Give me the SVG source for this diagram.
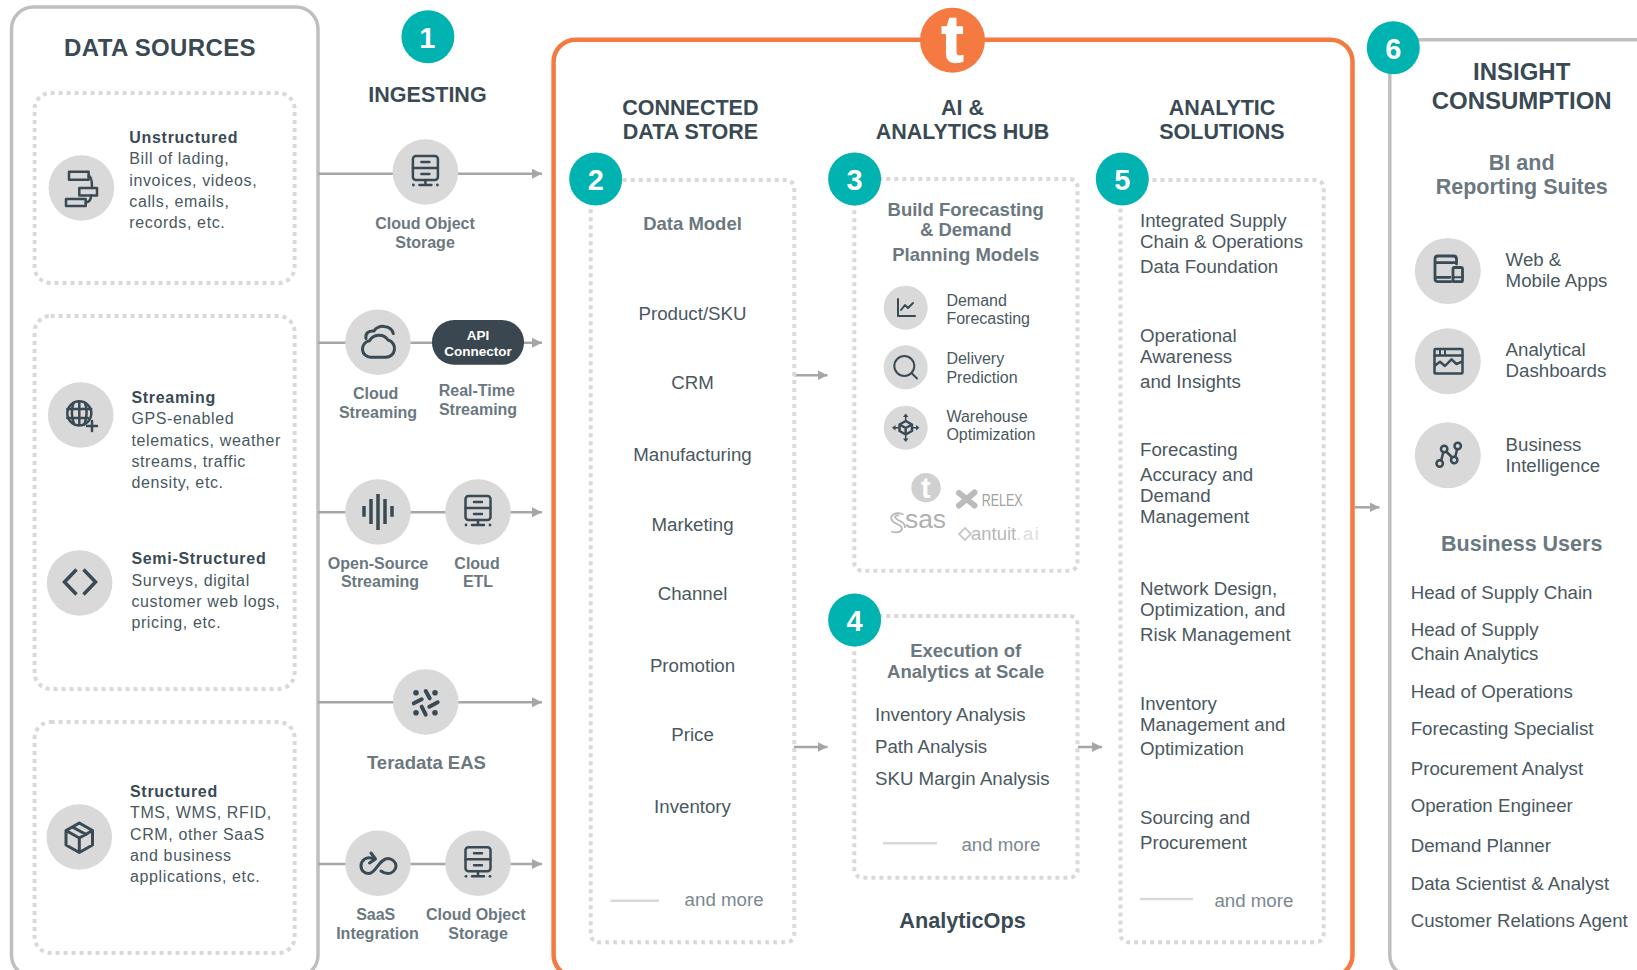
<svg xmlns="http://www.w3.org/2000/svg" xmlns:xlink="http://www.w3.org/1999/xlink" width="1637" height="970" viewBox="0 0 1637 970">
<style>
text{font-family:"Liberation Sans",Arial,sans-serif}
.panel{fill:none;stroke:#bfbfbf;stroke-width:3.5}
.orange{fill:none;stroke:#f47a42;stroke-width:4.5}
.dot{fill:none;stroke:#d9d9d9;stroke-width:4;stroke-dasharray:4 4}
.conn{stroke:#a6a6a6;stroke-width:2.5;fill:none}
.more{stroke:#d9d9d9;stroke-width:2.5;fill:none}
.disc{fill:#d9d9d9}
.teal{fill:#00b2b0}
.num{font-size:29px;font-weight:700;fill:#fff;text-anchor:middle}
.h1{font-size:24px;font-weight:700;fill:#3a4a54;text-anchor:middle}
.h2{font-size:21.5px;font-weight:700;fill:#3a4a54;text-anchor:middle}
.h3{font-size:21.5px;font-weight:700;fill:#6b7880;text-anchor:middle}
.h4{font-size:18.5px;font-weight:700;fill:#6b7880;text-anchor:middle}
.lab{font-size:16px;font-weight:700;fill:#6b7880;text-anchor:middle}
.src{font-size:16px;letter-spacing:.62px;fill:#4a5860}
.srcb{font-size:16px;font-weight:700;letter-spacing:.7px;fill:#3a4a54}
.item{font-size:18.7px;fill:#4a5860}
.itemc{font-size:18.7px;fill:#4a5860;text-anchor:middle}
.small{font-size:16px;fill:#4a5860}
.mr{font-size:18.7px;fill:#7c878e}
.ic{fill:none;stroke:#3a4a54;stroke-width:2.5;stroke-linecap:round;stroke-linejoin:round}
.icf{fill:#3a4a54}
</style>
<defs>
<marker id="arr" markerWidth="11" markerHeight="11" refX="10" refY="5" orient="auto" markerUnits="userSpaceOnUse"><path d="M0 0L10 5L0 10Z" fill="#a6a6a6"/></marker>
<g id="ic-server">
<rect class="ic" x="-12.5" y="-16" width="25" height="24" rx="3"/>
<path class="ic" d="M-12.5-4H12.5M-4-10H4M-4 2H4M0 8V13M-6 13H6"/>
<circle class="icf" cx="-12" cy="13" r="1.4"/><circle class="icf" cx="12" cy="13" r="1.4"/>
</g>
</defs>

<g id="panels">
<rect class="panel" x="11.5" y="7" width="306.5" height="970" rx="22"/>
<rect class="orange" x="553.6" y="39.7" width="798.9" height="937" rx="22"/>
<rect class="panel" x="1389.8" y="39.7" width="300" height="937" rx="22"/>
</g>

<g id="connectors">
<path class="conn" marker-end="url(#arr)" d="M318 173.7H542"/>
<path class="conn" marker-end="url(#arr)" d="M318 342.7H542"/>
<path class="conn" marker-end="url(#arr)" d="M318 512.3H542"/>
<path class="conn" marker-end="url(#arr)" d="M318 702.3H542"/>
<path class="conn" marker-end="url(#arr)" d="M318 864H542"/>
<path class="conn" marker-end="url(#arr)" d="M794 375.3H827.5"/>
<path class="conn" marker-end="url(#arr)" d="M794 747H827.5"/>
<path class="conn" marker-end="url(#arr)" d="M1078 747H1102"/>
<path class="conn" marker-end="url(#arr)" d="M1354.5 507.3H1379.5"/>
</g>

<g id="data-sources">
<text class="h1" style="letter-spacing:.35px" x="160" y="55.7">DATA SOURCES</text>
<rect class="dot" x="34.6" y="93" width="260" height="190" rx="16"/>
<rect class="dot" x="34.6" y="316" width="260" height="373" rx="16"/>
<rect class="dot" x="34.6" y="722" width="260" height="231" rx="16"/>
</g>

<g id="src-unstructured">
<circle class="disc" cx="81.4" cy="188" r="32.8"/>
<g class="ic">
<rect x="69" y="171.7" width="19.6" height="8"/><rect x="79.3" y="188" width="17.7" height="7.5"/><rect x="66" y="199" width="19.7" height="7"/>
<path d="M88.6 176Q92 176 92 188M91 195.5Q91 202 85.7 202.5"/>
</g>
<text class="srcb" x="129.3" y="143.3">Unstructured</text>
<text class="src" x="129.3" y="164.3">Bill of lading,</text>
<text class="src" x="129.3" y="186">invoices, videos,</text>
<text class="src" x="129.3" y="207">calls, emails,</text>
<text class="src" x="129.3" y="228">records, etc.</text>
</g>

<g id="src-streaming">
<circle class="disc" cx="80.7" cy="415" r="32.8"/>
<circle class="ic" cx="79.3" cy="413.3" r="12"/>
<path class="ic" d="M67.3 409H91.3M67.3 418H88M73.5 402.8Q70 413 74 424M85 402.8Q88.5 413 84.5 424M79.3 401.3V425.3"/>
<path class="ic" d="M92 421V431M87 426H97"/>
<text class="srcb" x="131.4" y="403.3">Streaming</text>
<text class="src" x="131.4" y="424.3">GPS-enabled</text>
<text class="src" x="131.4" y="445.7">telematics, weather</text>
<text class="src" x="131.4" y="467.3">streams, traffic</text>
<text class="src" x="131.4" y="488.3">density, etc.</text>
</g>

<g id="src-semi">
<circle class="disc" cx="79.6" cy="583" r="32.8"/>
<path class="ic" style="stroke-width:3.5;stroke-linecap:butt;stroke-linejoin:miter" d="M76.5 569.5L64.5 582L76.5 594.5M83.5 569.5L95.5 582L83.5 594.5"/>
<text class="srcb" x="131.4" y="564">Semi-Structured</text>
<text class="src" x="131.4" y="586">Surveys, digital</text>
<text class="src" x="131.4" y="607.3">customer web logs,</text>
<text class="src" x="131.4" y="628.3">pricing, etc.</text>
</g>

<g id="src-structured">
<circle class="disc" cx="79.3" cy="837" r="32.8"/>
<path class="ic" style="stroke-width:3" d="M79.3 823L92.5 830.5V845L79.3 852.5L66 845V830.5ZM66 830.5L79.3 838L92.5 830.5M79.3 838V852.5M72.5 827L86 834.5"/>
<text class="srcb" x="130" y="796.7">Structured</text>
<text class="src" x="130" y="818.3">TMS, WMS, RFID,</text>
<text class="src" x="130" y="840">CRM, other SaaS</text>
<text class="src" x="130" y="861">and business</text>
<text class="src" x="130" y="882.3">applications, etc.</text>
</g>

<g id="ingesting-head">
<circle class="teal" cx="427.9" cy="36.7" r="26.5"/>
<text class="num" x="427.4" y="48">1</text>
<text class="h2" x="427.5" y="101.7">INGESTING</text>
</g>

<g id="ing-cloud-object-1">
<circle class="disc" cx="425.4" cy="172" r="32.8"/>
<use xlink:href="#ic-server" href="#ic-server" x="425.4" y="172"/>
<text class="lab" x="425" y="229.3">Cloud Object</text>
<text class="lab" x="425" y="248">Storage</text>
</g>

<g id="ing-cloud-streaming">
<circle class="disc" cx="378" cy="342.3" r="32.8"/>
<path class="ic" style="stroke-width:3" d="M371 357.3H385.5A8.800 8.800 0 0 0 388 340A11 11 0 0 0 369.500 340.800A8.300 8.300 0 0 0 371 357.300ZM366 338.500C365 333 369 330.500 374 331C376 327 381 326 384 326.500C389 327 392.500 330 393.300 333.500"/>
<text class="lab" x="375.7" y="399">Cloud</text>
<text class="lab" x="378" y="418">Streaming</text>
</g>

<g id="ing-api">
<rect x="432" y="320" width="92" height="44.7" rx="22" fill="#3a4750"/>
<text x="478" y="340" font-size="13.5" font-weight="700" fill="#fff" text-anchor="middle">API</text>
<text x="478" y="356" font-size="13.5" font-weight="700" fill="#fff" text-anchor="middle">Connector</text>
<text class="lab" x="476.8" y="395.7">Real-Time</text>
<text class="lab" x="478" y="414.7">Streaming</text>
</g>

<g id="ing-open-source">
<circle class="disc" cx="378" cy="512" r="32.8"/>
<path class="ic" style="stroke-width:3.5;stroke-linecap:butt" d="M364 506V516.7M371 499V524M378 494V530M385 499V524M392 506V516.7"/>
<text class="lab" x="378" y="569.3">Open-Source</text>
<text class="lab" x="380" y="586.7">Streaming</text>
</g>

<g id="ing-cloud-etl">
<circle class="disc" cx="478" cy="512" r="32.8"/>
<use xlink:href="#ic-server" href="#ic-server" x="478" y="512"/>
<text class="lab" x="477" y="569.3">Cloud</text>
<text class="lab" x="478" y="586.7">ETL</text>
</g>

<g id="ing-teradata-eas">
<circle class="disc" cx="425.7" cy="702" r="32.8"/>
<path class="ic" style="stroke-width:4" d="M425.7 691L429.700 698.300M413.800 703.300L421.700 699.300M429.300 706.700L437.700 702.300M421.700 706.700L425.700 714.700"/>
<g class="icf"><circle cx="416" cy="692.700" r="2.800"/><circle cx="435" cy="692.700" r="2.800"/><circle cx="416" cy="712.700" r="2.800"/><circle cx="435" cy="712.700" r="2.800"/></g>
<text class="h4" x="426.4" y="768.7">Teradata EAS</text>
</g>

<g id="ing-saas">
<circle class="disc" cx="378" cy="863.3" r="32.8"/>
<path class="ic" style="stroke-width:3" d="M374 859C366 855 361 861 361 866C361 871 365 873.500 369 873.500C376 873.500 379 858.500 388 858.500C392 858.500 396 862 396 866C396 870 392 873.500 388 873.500C385.500 873.500 383 872.500 381 871M371 853L375.500 859L369.500 863"/>
<text class="lab" x="375.7" y="919.7">SaaS</text>
<text class="lab" x="377.5" y="939.3">Integration</text>
</g>

<g id="ing-cloud-object-2">
<circle class="disc" cx="478" cy="863.3" r="32.8"/>
<use xlink:href="#ic-server" href="#ic-server" x="478" y="863.3"/>
<text class="lab" x="475.7" y="919.7">Cloud Object</text>
<text class="lab" x="478" y="939.3">Storage</text>
</g>

<g id="teradata-badge">
<circle cx="952.5" cy="40.3" r="32.5" fill="#f47a42"/>
<text x="941.5" y="62" font-size="66" font-weight="700" fill="#fff" stroke="#fff" stroke-width="1.5">t</text>
</g>

<g id="connected-data-store">
<text class="h2" x="690.4" y="115.3">CONNECTED</text>
<text class="h2" x="690.4" y="139">DATA STORE</text>
<rect class="dot" x="590.7" y="180" width="203.6" height="762.3" rx="8"/>
<circle class="teal" cx="595.7" cy="179" r="26.5"/>
<text class="num" x="595.7" y="190">2</text>
<text class="h4" x="692.5" y="230">Data Model</text>
<text class="itemc" x="692.5" y="320">Product/SKU</text>
<text class="itemc" x="692.5" y="388.7">CRM</text>
<text class="itemc" x="692.5" y="461.3">Manufacturing</text>
<text class="itemc" x="692.5" y="530.8">Marketing</text>
<text class="itemc" x="692.5" y="600">Channel</text>
<text class="itemc" x="692.5" y="672">Promotion</text>
<text class="itemc" x="692.5" y="741">Price</text>
<text class="itemc" x="692.5" y="813.3">Inventory</text>
<path class="more" d="M610.4 900.7H659"/>
<text class="mr" x="684.6" y="906">and more</text>
</g>

<g id="ai-hub-head">
<text class="h2" x="962.5" y="115.3">AI &amp;</text>
<text class="h2" x="962.5" y="139">ANALYTICS HUB</text>
</g>

<g id="forecasting-models">
<rect class="dot" x="854.3" y="179" width="223.2" height="391.7" rx="8"/>
<circle class="teal" cx="854.6" cy="179" r="26.5"/>
<text class="num" x="854.6" y="190">3</text>
<text class="h4" x="965.7" y="215.7">Build Forecasting</text>
<text class="h4" x="965.7" y="236.3">&amp; Demand</text>
<text class="h4" x="965.7" y="260.7">Planning Models</text>
<circle class="disc" cx="905.7" cy="307.7" r="22"/>
<path class="ic" style="stroke-width:2" d="M898 299V316H915M901 310L905 305L908 308L913 303"/>
<circle class="disc" cx="905.7" cy="367.3" r="22"/>
<circle class="ic" style="stroke-width:2" cx="904.3" cy="366" r="10"/>
<path class="ic" style="stroke-width:2" d="M911.5 373L917 378.500"/>
<circle class="disc" cx="905.7" cy="427.7" r="22"/>
<path class="ic" style="stroke-width:2.5" d="M905.7 421L912 424.500V431L905.700 434.500L899.500 431V424.500ZM899.500 424.500L905.700 428L912 424.500M905.700 428V434.500"/>
<path class="ic" style="stroke-width:1.5" d="M905.700 416V420M905.700 435.500V439.500M895 427.700H898.500M913 427.700H916.500"/>
<path class="icf" d="M905.700 413.500L908.500 417H903ZM905.700 442L908.500 438.500H903ZM892 427.700L895.500 425V430.500ZM919.500 427.700L916 425V430.500Z"/>
<text class="small" x="946.4" y="306">Demand</text>
<text class="small" x="946.4" y="324">Forecasting</text>
<text class="small" x="946.4" y="364">Delivery</text>
<text class="small" x="946.4" y="383.3">Prediction</text>
<text class="small" x="946.4" y="422.3">Warehouse</text>
<text class="small" x="946.4" y="440">Optimization</text>
<g id="vendor-logos">
<circle cx="926" cy="487.7" r="14.7" fill="#d0d0d0"/>
<text x="921" y="498" font-size="29" font-weight="700" fill="#fff">t</text>
<path d="M959 493L974.500 505.500M974.500 492.500L959 505.500" fill="none" stroke="#bbb" stroke-width="6" stroke-linecap="round"/>
<text x="981.7" y="505.7" font-size="17" fill="#a0a0a0" textLength="41" lengthAdjust="spacingAndGlyphs">RELEX</text>
<path d="M903.500 514.500Q895 511 891.500 516.500Q890.500 521 896 523.500Q902.500 526 902 529.500Q899 534 891 531.500M899 515.500Q896.500 514.500 895 517Q896 519.500 900 521Q905.500 523.500 905 528" fill="none" stroke="#b8b8b8" stroke-width="1.800"/>
<text x="905" y="528.300" font-size="26" fill="#b0b0b0" textLength="41" lengthAdjust="spacingAndGlyphs">sas</text>
<path d="M965 528L971 534L965 540L959 534Z" fill="none" stroke="#c8c8c8" stroke-width="1.800"/>
<text x="971" y="539.800" font-size="18.500" fill="#b8b8b8">antuit<tspan fill="#dedede" letter-spacing="1.5">.ai</tspan></text>
</g>
</g>

<g id="execution">
<rect class="dot" x="854.3" y="616" width="223.2" height="261.7" rx="8"/>
<circle class="teal" cx="854.6" cy="620" r="26.5"/>
<text class="num" x="854.6" y="631">4</text>
<text class="h4" x="965.7" y="656.7">Execution of</text>
<text class="h4" x="965.7" y="678">Analytics at Scale</text>
<text class="item" x="875" y="720.7">Inventory Analysis</text>
<text class="item" x="875" y="752.7">Path Analysis</text>
<text class="item" x="875" y="784.7">SKU Margin Analysis</text>
<path class="more" d="M883 843.3H937"/>
<text class="mr" x="961.4" y="850.7">and more</text>
</g>

<g id="analyticops">
<text x="962.5" y="927.8" font-size="21.7" font-weight="700" fill="#3a4a54" text-anchor="middle">AnalyticOps</text>
</g>

<g id="analytic-solutions">
<text class="h2" x="1222" y="115.3">ANALYTIC</text>
<text class="h2" x="1222" y="139">SOLUTIONS</text>
<rect class="dot" x="1120.5" y="180" width="203.2" height="762.3" rx="8"/>
<circle class="teal" cx="1122.3" cy="179" r="26.5"/>
<text class="num" x="1122.3" y="190">5</text>
<text class="item" x="1140" y="227.3">Integrated Supply</text>
<text class="item" x="1140" y="248.3">Chain &amp; Operations</text>
<text class="item" x="1140" y="273.3">Data Foundation</text>
<text class="item" x="1140" y="342.3">Operational</text>
<text class="item" x="1140" y="363.3">Awareness</text>
<text class="item" x="1140" y="387.7">and Insights</text>
<text class="item" x="1140" y="455.7">Forecasting</text>
<text class="item" x="1140" y="481.3">Accuracy and</text>
<text class="item" x="1140" y="502.3">Demand</text>
<text class="item" x="1140" y="523.3">Management</text>
<text class="item" x="1140" y="594.6">Network Design,</text>
<text class="item" x="1140" y="616">Optimization, and</text>
<text class="item" x="1140" y="641.3">Risk Management</text>
<text class="item" x="1140" y="710">Inventory</text>
<text class="item" x="1140" y="731.3">Management and</text>
<text class="item" x="1140" y="755.3">Optimization</text>
<text class="item" x="1140" y="824">Sourcing and</text>
<text class="item" x="1140" y="849">Procurement</text>
<path class="more" d="M1140 899H1193"/>
<text class="mr" x="1214.4" y="907.3">and more</text>
</g>

<g id="insight-consumption">
<circle class="teal" cx="1393.3" cy="47.7" r="26.5"/>
<text class="num" x="1393.3" y="59">6</text>
<text class="h1" x="1521.7" y="80">INSIGHT</text>
<text class="h1" x="1521.7" y="108.7">CONSUMPTION</text>
<text class="h3" x="1521.7" y="170">BI and</text>
<text class="h3" x="1521.7" y="194">Reporting Suites</text>
</g>

<g id="con-web">
<circle class="disc" cx="1447.8" cy="271" r="33"/>
<path class="ic" style="stroke-width:2.8" d="M1451 281.700H1438Q1435 281.700 1435 278.700V259Q1435 256 1438 256H1453.500Q1456.500 256 1456.500 259V264M1435 262.700H1456.500M1435 277.300H1450"/>
<rect class="ic" style="stroke-width:2.8" x="1453" y="267.500" width="9.500" height="14.200" rx="1.500"/>
<path class="ic" style="stroke-width:2" d="M1453 277.300H1462.500"/>
<text class="item" x="1505.6" y="266">Web &amp;</text>
<text class="item" x="1505.6" y="287.3">Mobile Apps</text>
</g>

<g id="con-dash">
<circle class="disc" cx="1447.8" cy="361.3" r="33"/>
<rect class="ic" x="1434.5" y="349" width="28" height="24.500" rx="1"/>
<path class="ic" d="M1434.500 355.500H1462.500M1435 365.500L1440 361.700L1445 366L1451.500 359.300L1456.500 364L1462 361.700"/>
<path class="ic" style="stroke-width:2;stroke-linecap:butt" d="M1440 349.500V355M1445 349.500V355"/>
<text class="item" x="1505.6" y="356">Analytical</text>
<text class="item" x="1505.6" y="377.3">Dashboards</text>
</g>

<g id="con-bi">
<circle class="disc" cx="1447.8" cy="455.3" r="33"/>
<g class="ic"><circle cx="1439.700" cy="463.500" r="3.200"/><circle cx="1444.200" cy="449" r="3.200"/><circle cx="1454.200" cy="460" r="3.200"/><circle cx="1457.700" cy="446" r="3.200"/></g>
<path class="ic" d="M1441.200 460.500L1443.200 452.500M1446.200 451.500L1452.200 457.500M1455.200 457L1457.200 449"/>
<text class="item" x="1505.6" y="451">Business</text>
<text class="item" x="1505.6" y="472.3">Intelligence</text>
</g>

<g id="business-users">
<text class="h3" x="1521.7" y="550.7">Business Users</text>
<text class="item" x="1410.7" y="599">Head of Supply Chain</text>
<text class="item" x="1410.7" y="636">Head of Supply</text>
<text class="item" x="1410.7" y="660">Chain Analytics</text>
<text class="item" x="1410.7" y="698.3">Head of Operations</text>
<text class="item" x="1410.7" y="735">Forecasting Specialist</text>
<text class="item" x="1410.7" y="775">Procurement Analyst</text>
<text class="item" x="1410.7" y="812">Operation Engineer</text>
<text class="item" x="1410.7" y="852">Demand Planner</text>
<text class="item" x="1410.7" y="890">Data Scientist &amp; Analyst</text>
<text class="item" x="1410.7" y="926.7">Customer Relations Agent</text>
</g>
</svg>
